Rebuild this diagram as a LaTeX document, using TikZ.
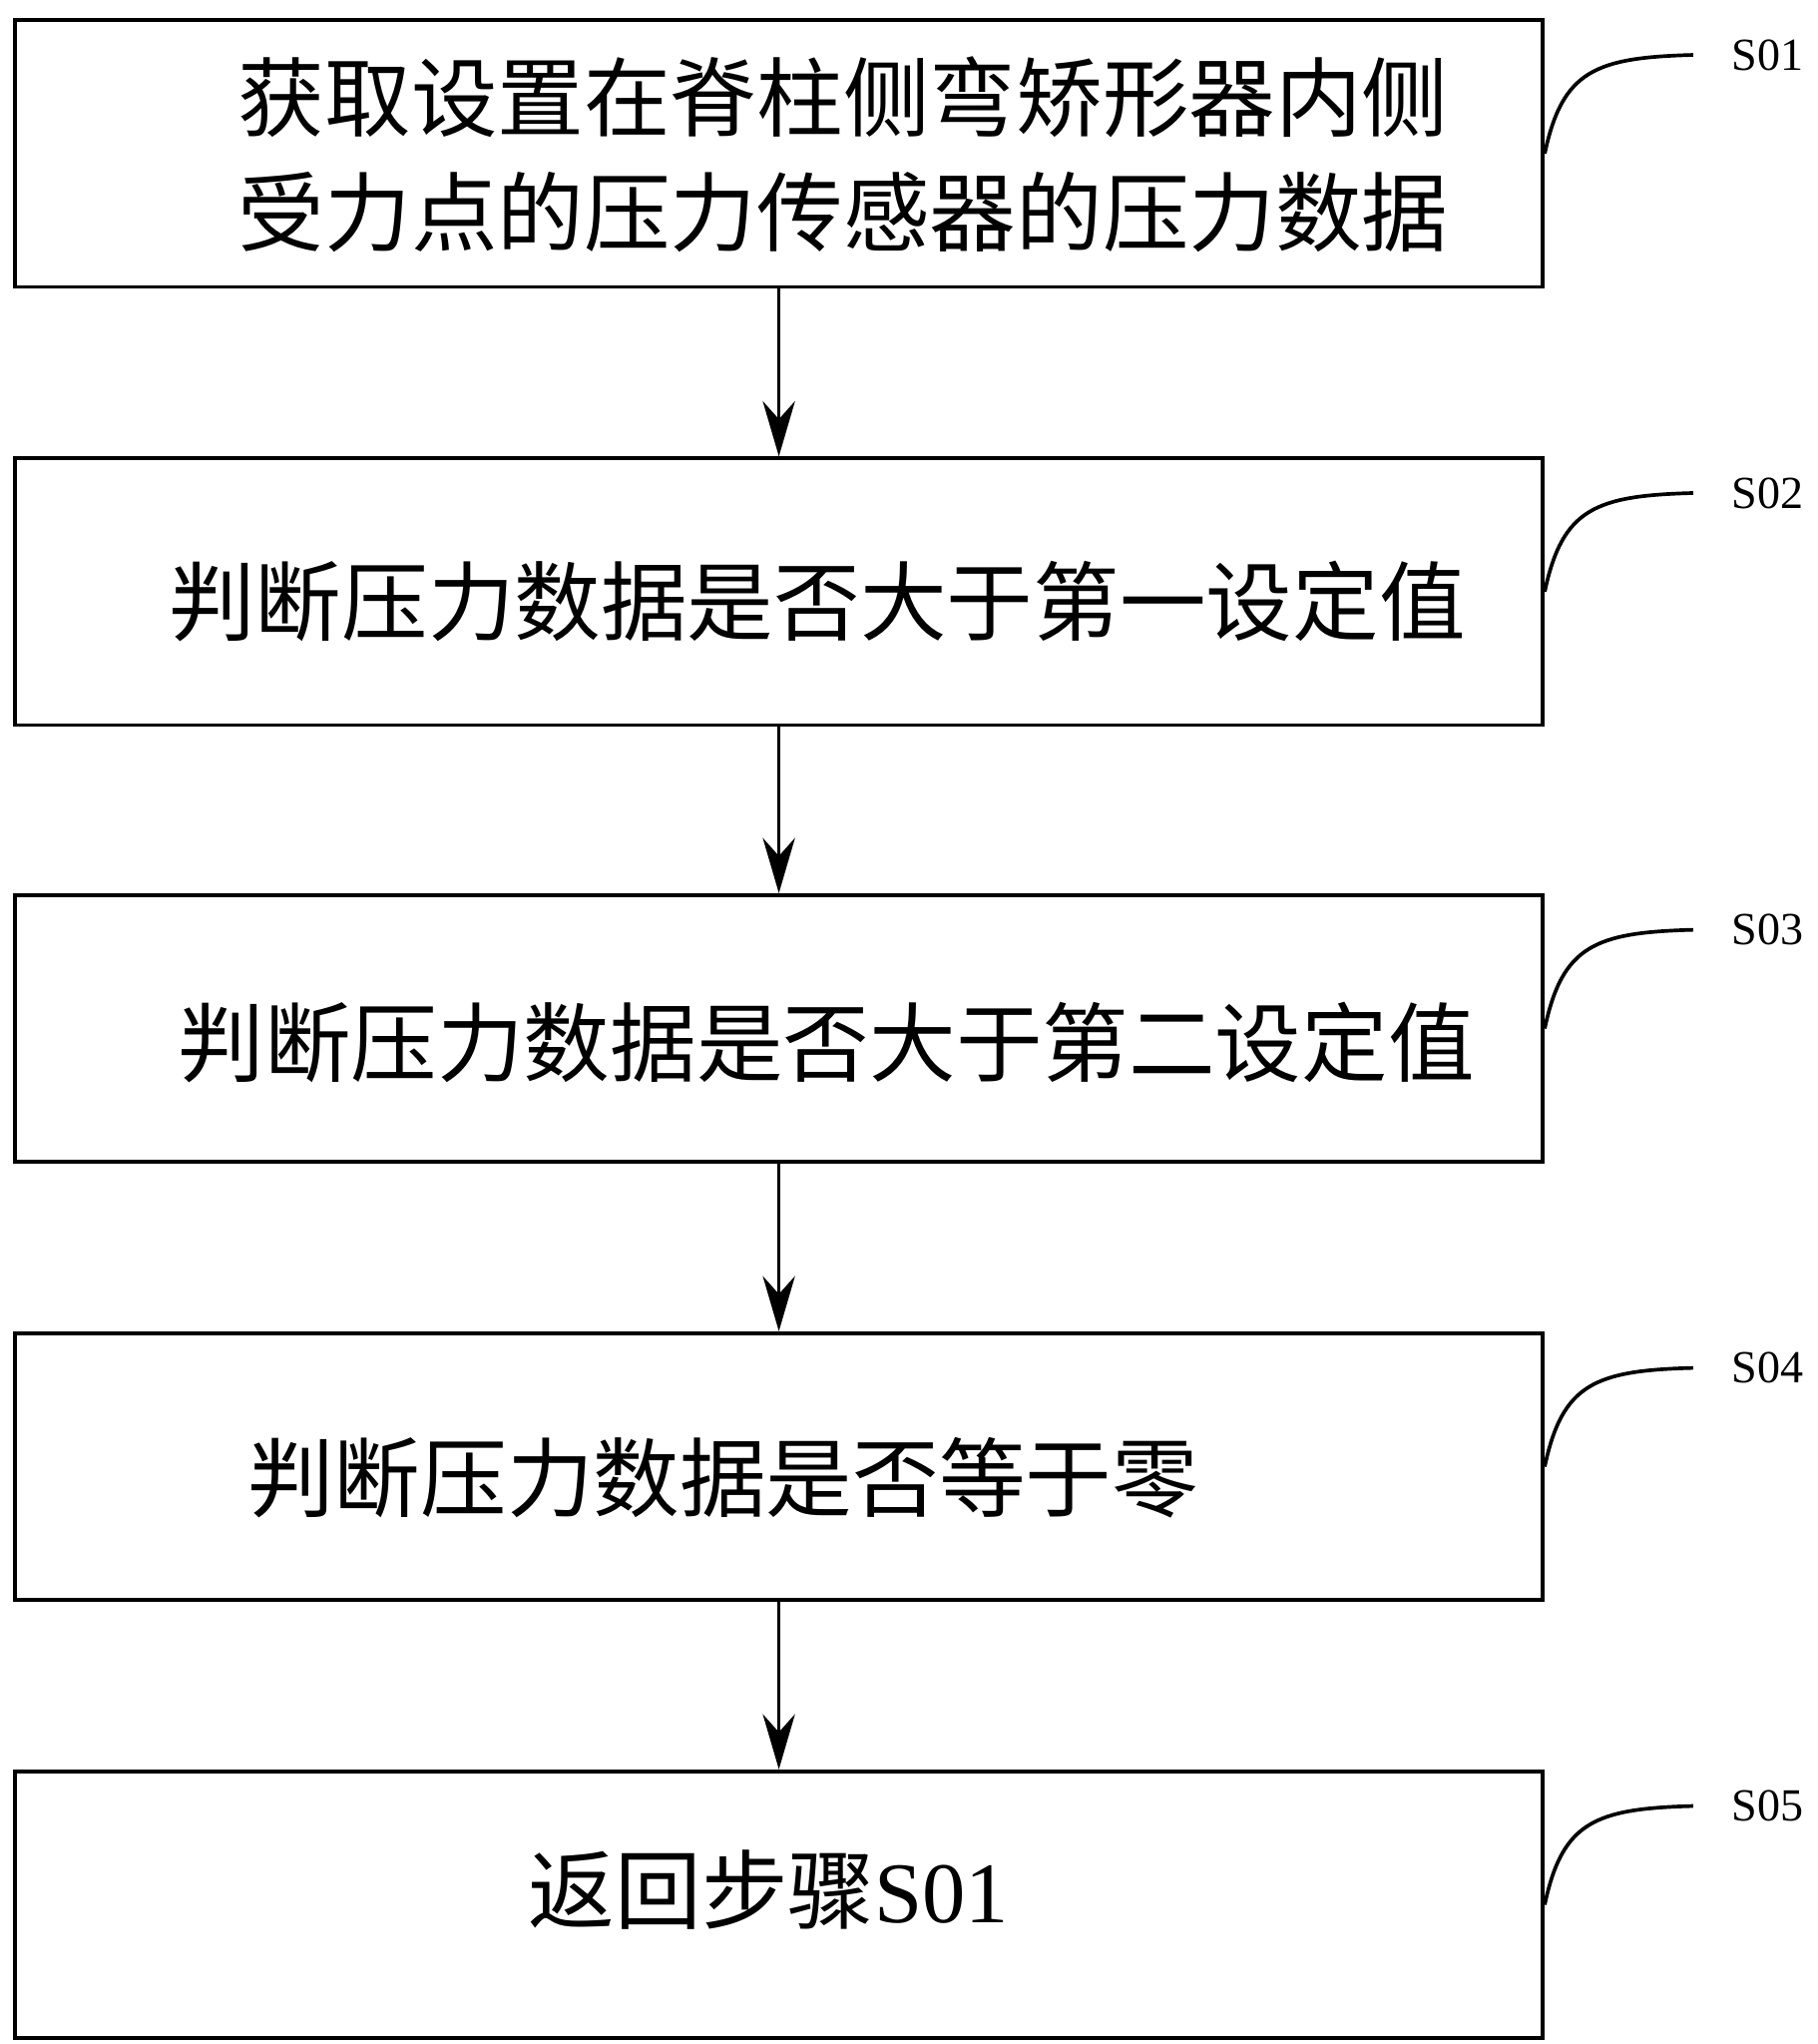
\documentclass[tikz,border=0pt]{standalone}
\usepackage{fontspec}
\setmainfont{Liberation Serif}
\newfontfamily\cjk{Noto Sans CJK SC}
\usetikzlibrary{arrows.meta}
\begin{document}
\begin{tikzpicture}[x=0.01cm,y=-0.01cm,
    stepbox/.style={draw,thick,minimum width=11.68cm,minimum height=2.04cm,anchor=north west,inner sep=0pt},
    txt/.style={font=\cjk\fontsize{18.8pt}{25pt}\selectfont,align=left},
    tag/.style={font=\fontsize{10pt}{12pt}\selectfont},
    flow/.style={thick,-{Stealth[length=12pt,width=7pt]}}]
        \useasboundingbox (0,0) rectangle (1390,1563);
        \foreach \i/\y in {1/14,2/349,3/683,4/1018,5/1353} {
            \node[stepbox] (b\i) at (10,\y) {};
            \node[tag] (t\i) at (1352,\y+28) {S0\i};
            \draw[thick] (b\i.east) .. controls (1195,\y+40) and (1220,\y+30) .. (1295,\y+28);
        }
        \node[txt] (l1) at (645,118) {获取设置在脊柱侧弯矫形器内侧\\受力点的压力传感器的压力数据};
        \node[txt] (l2) at (625,460) {判断压力数据是否大于第一设定值};
        \node[txt] (l3) at (632,797) {判断压力数据是否大于第二设定值};
        \node[txt] (l4) at (553,1130) {判断压力数据是否等于零};
        \node[txt] (l5) at (588,1445) {返回步骤\fontspec{Liberation Serif}S01};
        \foreach \a/\b in {1/2,2/3,3/4,4/5}
            \draw[flow] (b\a.south) -- (b\b.north);
\end{tikzpicture}
\end{document}
